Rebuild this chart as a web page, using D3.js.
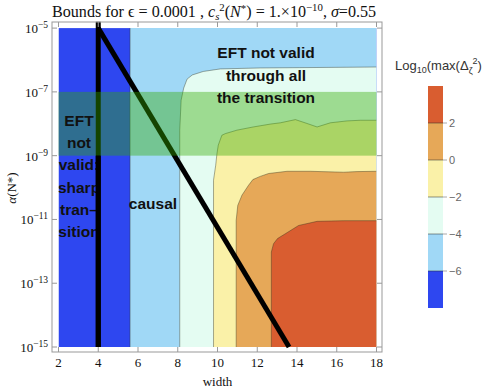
<!DOCTYPE html>
<html><head><meta charset="utf-8">
<script src="https://cdn.jsdelivr.net/npm/d3@7"></script>
<style>body{margin:0;background:#fff}svg{display:block}</style>
</head><body>
<svg id="c" width="498" height="390"></svg>
<script>
// ---- data (width, log10 alpha) ----
const xTicks = [2,4,6,8,10,12,14,16,18];
const yTickExps = [-5,-7,-9,-11,-13,-15];
const levels = [-6,-4,-2,0,2];           // contour levels (legend ticks)
const levelColors = ["#2e47f0","#a0d8f6","#e4fcf2","#faf1a8","#e6a858","#d95d30"];
const boundaryM6 = [[5.6,-15],[5.6,-5]];
const boundaryM4 = [[8.10,-15],[8.10,-8.2],[8.17,-7.26],[8.30,-6.88],[8.47,-6.60],[8.73,-6.47],[9.28,-6.36],[10.14,-6.28],[12.15,-6.25],[14.13,-6.24],[18,-6.22]];
const boundaryM2 = [[9.80,-15],[9.80,-9.77],[9.91,-9.30],[9.97,-8.95],[10.04,-8.67],[10.22,-8.36],[10.39,-8.31],[10.98,-8.20],[11.80,-8.10],[12.66,-8.01],[13.16,-7.97],[13.92,-7.87],[14.50,-7.99],[15.01,-8.10],[15.68,-7.97],[16.52,-7.91],[17.19,-7.89],[18,-7.89]];
const boundary0 = [[10.94,-15],[10.94,-11.03],[11.02,-10.56],[11.23,-10.24],[11.56,-9.93],[11.78,-9.75],[12.15,-9.65],[12.57,-9.56],[13.50,-9.49],[14.67,-9.49],[16.35,-9.52],[17.02,-9.50],[18,-9.49]];
const boundary2 = [[12.71,-15],[12.71,-12.02],[12.82,-11.76],[13.02,-11.60],[13.41,-11.45],[14.08,-11.19],[15.01,-11.06],[16.35,-11.04],[18,-11.04]];
const verticalBound = [[4,-15],[4,-4.8]];
const diagonalBound = [[4,-5],[13.6,-15]];
const greenBand = [-9,-7];

const svg = d3.select("#c");
const x = d3.scaleLinear().domain([2,18]).range([58.5,376.5]);
const y = d3.scaleLog().domain([1e-15,1e-5]).range([347,28.1]);
const px = d => x(d[0]), py = d => y(Math.pow(10,d[1]));
const line = d3.line().x(px).y(py);

const serif = "'Liberation Serif','Times New Roman',serif";
const sans = "'Liberation Sans',Arial,Helvetica,sans-serif";

const plot = svg.append("g");
plot.append("clipPath").attr("id","clip").append("rect")
  .attr("x",x(2)).attr("y",y(1e-5)).attr("width",x(18)-x(2)).attr("height",y(1e-15)-y(1e-5));
const regions = plot.append("g").attr("clip-path","url(#clip)");
regions.append("rect").attr("x",x(2)).attr("y",y(1e-5)).attr("width",x(18)-x(2))
  .attr("height",y(1e-15)-y(1e-5)).attr("fill",levelColors[0]);
const bounds = [boundaryM6,boundaryM4,boundaryM2,boundary0,boundary2];
bounds.forEach((b,i)=>{
  const poly = (b === boundaryM6) ? b.concat([[18,-5],[18,-15]]) : b.concat([[18,-15]]);
  regions.append("path").attr("d",line(poly)+"Z").attr("fill",levelColors[i+1]);
});
bounds.forEach(b=>{
  regions.append("path").attr("d",line(b)).attr("fill","none")
    .attr("stroke","rgba(50,50,30,0.45)").attr("stroke-width",0.9);
});

// black bound lines
svg.append("path").attr("d",line(verticalBound)).attr("stroke","#000").attr("stroke-width",5).attr("fill","none");
svg.append("path").attr("d",line(diagonalBound)).attr("stroke","#000").attr("stroke-width",5).attr("fill","none");

// green band overlay
svg.append("rect").attr("x",x(2)).attr("width",x(18)-x(2))
  .attr("y",y(Math.pow(10,greenBand[1]))).attr("height",y(Math.pow(10,greenBand[0]))-y(Math.pow(10,greenBand[1])))
  .attr("fill","rgb(50,170,0)").attr("fill-opacity",0.4);

// labels
const lab = svg.append("g").attr("font-family",sans).attr("font-weight","bold")
  .attr("font-size","15.5px").attr("fill","#111").attr("text-anchor","middle");
[["EFT not valid",58],["through all",80.5],["the transition",103]].forEach(([t,b])=>
  lab.append("text").attr("x",266).attr("y",b).text(t));
["EFT","not","valid:","sharp","tran\u2013","sition"].forEach((t,i)=>
  lab.append("text").attr("x",79).attr("y",126+i*22.2).text(t));
lab.append("text").attr("x",153).attr("y",209).text("causal");
// the vertical line sits over the left label
svg.append("path").attr("d",line([[4,-15],[4,-9]])).attr("stroke","#000").attr("stroke-width",5).attr("fill","none");

// frame
const fx0=52, fx1=382, fy0=22, fy1=352;
svg.append("rect").attr("x",fx0).attr("y",fy0).attr("width",fx1-fx0).attr("height",fy1-fy0)
  .attr("fill","none").attr("stroke","#999").attr("stroke-width",1);
const tk = svg.append("g").attr("stroke","#999").attr("stroke-width",1);
xTicks.forEach(v=>{
  tk.append("line").attr("x1",x(v)).attr("x2",x(v)).attr("y1",fy1).attr("y2",fy1-5);
  tk.append("line").attr("x1",x(v)).attr("x2",x(v)).attr("y1",fy0).attr("y2",fy0+5);
});
yTickExps.forEach(e=>{
  tk.append("line").attr("x1",fx0).attr("x2",fx0+5).attr("y1",y(Math.pow(10,e))).attr("y2",y(Math.pow(10,e)));
  tk.append("line").attr("x1",fx1).attr("x2",fx1-5).attr("y1",y(Math.pow(10,e))).attr("y2",y(Math.pow(10,e)));
});
const ax = svg.append("g").attr("font-family",serif).attr("fill","#111");
xTicks.forEach(v=> ax.append("text").attr("x",x(v)).attr("y",367).attr("text-anchor","middle")
  .attr("font-size","13px").text(v));
yTickExps.forEach(e=>{
  const t = ax.append("text").attr("x",48).attr("y",y(Math.pow(10,e))+5).attr("text-anchor","end").attr("font-size","13px");
  t.append("tspan").text("10");
  t.append("tspan").attr("dy",-5).attr("font-size","9.5px").text("\u2212"+Math.abs(e));
});
ax.append("text").attr("x",x(10)).attr("y",386).attr("text-anchor","middle").attr("font-size","13px").text("width");
ax.append("text").attr("transform","translate(16,188) rotate(-90)").attr("text-anchor","middle")
  .attr("font-size","13px").html('<tspan font-style="italic">\u03b1</tspan>(N*)');

// title
const tt = svg.append("text").attr("x",52).attr("y",17).attr("font-family",serif).attr("font-size","16.1px").attr("fill","#111");
tt.append("tspan").text("Bounds for \u03f5 = 0.0001 , ");
tt.append("tspan").attr("font-style","italic").text("c");
tt.append("tspan").attr("font-style","italic").attr("font-size","10.8px").attr("dy",3).text("s");
tt.append("tspan").attr("font-size","10.8px").attr("dy",-9).text("2");
tt.append("tspan").attr("dy",6).text("(");
tt.append("tspan").attr("font-style","italic").text("N");
tt.append("tspan").attr("font-size","10.8px").attr("dy",-5).text("*");
tt.append("tspan").attr("dy",5).text(") = 1.\u00d710");
tt.append("tspan").attr("font-size","10.8px").attr("dy",-6).text("\u221210");
tt.append("tspan").attr("dy",6).text(", ");
tt.append("tspan").attr("font-style","italic").text("\u03c3");
tt.append("tspan").text("=0.55");

// legend
const ly = d3.scaleLinear().domain([-8,4]).range([308,86]);
const lg = svg.append("g");
const edges = [-8].concat(levels).concat([4]);
for (let i=0;i<levelColors.length;i++){
  lg.append("rect").attr("x",428).attr("width",15).attr("y",ly(edges[i+1])).attr("height",ly(edges[i])-ly(edges[i+1]))
    .attr("fill",levelColors[i]);
}
levels.forEach(l=>{
  lg.append("line").attr("x1",428).attr("x2",443).attr("y1",ly(l)).attr("y2",ly(l)).attr("stroke","rgba(40,40,40,0.5)");
  lg.append("line").attr("x1",443).attr("x2",447).attr("y1",ly(l)).attr("y2",ly(l)).attr("stroke","#aaa");
  lg.append("text").attr("x",449).attr("y",ly(l)+4).attr("font-family",sans).attr("font-size","11px")
    .attr("fill","#666").text(l<0?"\u2212"+Math.abs(l):l);
});
const lt = lg.append("text").attr("x",395).attr("y",70).attr("font-family",sans).attr("font-size","13px").attr("fill","#333");
lt.append("tspan").text("Log");
lt.append("tspan").attr("font-size","9px").attr("dy",3).text("10");
lt.append("tspan").attr("dy",-3).text("(max(\u0394");
lt.append("tspan").attr("font-size","9px").attr("dy",4).text("\u03b6");
lt.append("tspan").attr("font-size","9px").attr("dy",-10).text("2");
lt.append("tspan").attr("dy",6).text(")");
</script>
</body></html>
